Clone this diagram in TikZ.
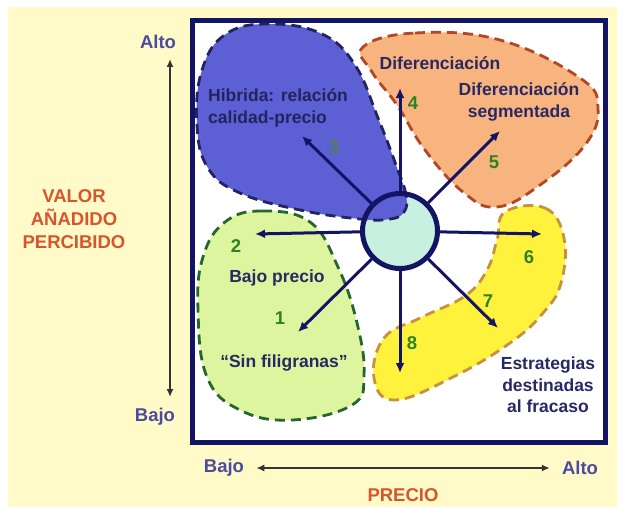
\documentclass[tikz,border=0pt]{standalone}
\usepackage{fontspec}
\setmainfont{Liberation Sans}
\usetikzlibrary{arrows.meta}
\definecolor{fondo}{RGB}{255,250,200}
\definecolor{marino}{RGB}{20,20,100}
\definecolor{azulH}{RGB}{92,96,212}
\definecolor{bordeH}{RGB}{35,35,95}
\definecolor{naranjaD}{RGB}{248,180,126}
\definecolor{bordeD}{RGB}{180,70,40}
\definecolor{limaB}{RGB}{222,245,160}
\definecolor{bordeB}{RGB}{40,100,45}
\definecolor{amarilloE}{RGB}{255,242,60}
\definecolor{bordeE}{RGB}{200,145,60}
\definecolor{centro}{RGB}{200,240,225}
\definecolor{verdeN}{RGB}{46,130,34}
\definecolor{rojoT}{RGB}{215,85,45}
\definecolor{violetaT}{RGB}{75,75,160}
\definecolor{textoM}{RGB}{40,40,100}

\begin{document}
\begin{tikzpicture}[x=1pt,y=-1pt,
    txt/.style={font=\bfseries\fontsize{17.5}{21.5}\selectfont, text=textoM, align=center, inner sep=0pt},
    num/.style={font=\bfseries\fontsize{18.5}{20}\selectfont, text=verdeN, inner sep=0pt},
    eje/.style={font=\bfseries\fontsize{18.5}{20}\selectfont, text=violetaT, inner sep=0pt},
    titulo/.style={font=\bfseries\fontsize{18.5}{23}\selectfont, text=rojoT, align=center, inner sep=0pt},
    flecha/.style={line width=3pt, color=marino, -{Latex[length=10pt,width=9pt]}},
    ejeflecha/.style={line width=1.6pt, color=black!80, {Latex[length=8pt,width=7pt]}-{Latex[length=8pt,width=7pt]}},
    borde/.style={dash pattern=on 10pt off 6pt, line width=2.8pt}]
    \useasboundingbox (0,0) rectangle (617,507);
    \fill[white] (0,0) rectangle (617,507);
    \fill[fondo] (8,7) rectangle (617,507);
    \filldraw[fill=white, draw=marino, line width=5pt] (192.5,20.5) rectangle (605.5,442.5);
    % zonas
    \fill[centro] (400,231) circle (37.5);
    \filldraw[fill=naranjaD, draw=bordeD, borde] plot[smooth cycle, tension=0.7] coordinates
    {(363,47) (415,33) (500,40) (580,78) (598,108) (585,145) (540,185) (497,207) (463,192) (425,150) (397,105) (372,72)};
    \filldraw[fill=amarilloE, draw=bordeE, borde] plot[smooth cycle, tension=0.7] coordinates
    {(505,212) (545,208) (564,238) (561,283) (543,313) (510,343) (453,377) (395,400) (374,378) (384,338) (420,318) (465,296) (487,270) (497,240)};
    \filldraw[fill=limaB, draw=bordeB, borde] plot[smooth cycle, tension=0.7] coordinates
    {(225,222) (262,211) (310,222) (338,267) (357,323) (364,375) (352,405) (292,420) (240,410) (207,377) (198,310) (203,257)};
    \filldraw[fill=azulH, draw=bordeH, borde] plot[smooth cycle, tension=0.7] coordinates
    {(404,212) (406,195) (396,165) (378,118) (355,65) (322,34) (270,24) (226,34) (202,70) (197,125) (208,168) (240,193) (300,210) (360,219) (390,219)};
    \node[circle, draw=marino, line width=5pt, minimum size=75pt, inner sep=0pt] (core) at (400,231) {};
    % estrategias
    \coordinate (p1) at (298,332);
    \coordinate (p2) at (255,234);
    \coordinate (p3) at (302,136);
    \coordinate (p4) at (400,88);
    \coordinate (p5) at (500,131);
    \coordinate (p6) at (542,234);
    \coordinate (p7) at (498,328);
    \coordinate (p8) at (400,373);
    \draw[flecha] (core) -- (p1);
    \draw[flecha] (core) -- (p2);
    \draw[flecha] (core) -- (p3);
    \draw[flecha] (core) -- (p4);
    \draw[flecha] (core) -- (p5);
    \draw[flecha] (core) -- (p6);
    \draw[flecha] (core) -- (p7);
    \draw[flecha] (core) -- (p8);
    \node[num] (n1) at (280,318) {1};
    \node[num] (n2) at (236,246) {2};
    \node[num, text=verdeN!60!gray] (n3) at (334,147) {3};
    \node[num] (n4) at (413,103) {4};
    \node[num] (n5) at (494,162) {5};
    \node[num] (n6) at (529,257) {6};
    \node[num] (n7) at (488,301) {7};
    \node[num] (n8) at (412,343) {8};
    \node[txt, text=bordeH, align=left, anchor=west] (hibrida) at (208,108) {Hibrida: relación\\calidad-precio};
    \node[txt] (dif) at (440,63) {Diferenciación};
    \node[txt] (difseg) at (519,102) {Diferenciación\\segmentada};
    \node[txt] (bajop) at (277,278) {Bajo precio};
    \node[txt] (sinfil) at (284,363) {“Sin filigranas”};
    \node[txt] (fracaso) at (548,385) {Estrategias\\destinadas\\al fracaso};
    % ejes
    \node[eje] (altoV) at (158,42) {Alto};
    \node[eje] (bajoV) at (155,417) {Bajo};
    \draw[ejeflecha] (altoV.south -| 170,0) ++(0,10) coordinate (vA) -- (170,397) coordinate (vB);
    \node[titulo] (valor) at (74,219) {VALOR\\AÑADIDO\\PERCIBIDO};
    \node[eje] (bajoH) at (224,468) {Bajo};
    \node[eje] (altoH) at (580,468) {Alto};
    \draw[ejeflecha] (bajoH.east) ++(12,0) -- ([xshift=-12pt]altoH.west);
    \node[titulo] (precio) at (403,495) {PRECIO};
\end{tikzpicture}
\end{document}
